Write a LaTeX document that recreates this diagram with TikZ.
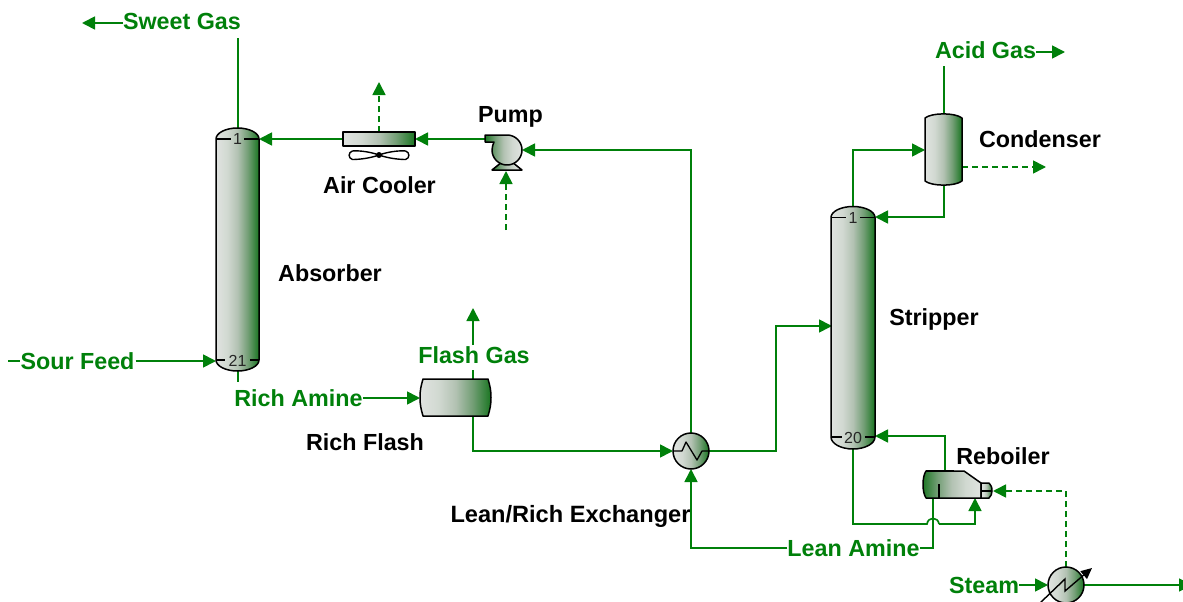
\documentclass[tikz,border=0pt]{standalone}
\usepackage{fontspec}
\setmainfont{Liberation Sans}
\usetikzlibrary{arrows.meta,calc}
\definecolor{stream}{RGB}{0,128,10}
\pgfdeclarehorizontalshading{eqshade}{100bp}{
  rgb(0bp)=(.88,.89,.88);
  rgb(25bp)=(.88,.89,.88);
  rgb(38bp)=(.82,.85,.82);
  rgb(50bp)=(.70,.76,.70);
  rgb(62bp)=(.45,.62,.46);
  rgb(75bp)=(.10,.46,.13);
  rgb(100bp)=(.10,.46,.13)}
\tikzset{
  flow/.style={draw=stream,line width=1.7pt,-{Triangle[length=13pt,width=13pt]}},
  flowdash/.style={flow,dash pattern=on 6pt off 4pt},
  flowend/.style={draw=stream,line width=1.7pt},
  unitline/.style={draw=black,line width=1.5pt,line join=round},
  fillleft/.style={unitline,shading=eqshade},
  fillright/.style={unitline,shading=eqshade,shading angle=180},
  unitbox/.style={inner sep=0pt,outer sep=0pt,draw=none},
  greenlabel/.style={inner sep=0pt,anchor=base,text=stream,font=\fontsize{23.3}{25}\selectfont\bfseries},
  blacklabel/.style={inner sep=0pt,anchor=base,text=black,font=\fontsize{23.3}{25}\selectfont\bfseries},
  traynum/.style={inner sep=0pt,text=black!85,font=\fontsize{16}{18}\selectfont},
  trayline/.style={draw=black,line width=1.2pt},
}
% x1 x2 ytop ytan1 ytan2 ybot
\newcommand{\columnpath}[6]{
  (#1,#4) .. controls (#1,{#4-0.55*(#4-#3)}) and ({(#1+#2)/2-0.55*(#2-#1)/2},#3) .. ({(#1+#2)/2},#3)
  .. controls ({(#1+#2)/2+0.55*(#2-#1)/2},#3) and (#2,{#4-0.55*(#4-#3)}) .. (#2,#4)
  -- (#2,#5) .. controls (#2,{#5+0.55*(#6-#5)}) and ({(#1+#2)/2+0.55*(#2-#1)/2},#6) .. ({(#1+#2)/2},#6)
  .. controls ({(#1+#2)/2-0.55*(#2-#1)/2},#6) and (#1,{#5+0.55*(#6-#5)}) .. (#1,#5) -- cycle}
\begin{document}
\begin{tikzpicture}[x=1pt,y=-1pt]
\clip (0,0) rectangle (1183,602);
% anchors for the units
\node[unitbox,minimum width=44pt,minimum height=243pt] (abs) at (238,249.5) {};
\node[unitbox,minimum width=44pt,minimum height=243pt] (str) at (853,328) {};
\node[unitbox,minimum width=72pt,minimum height=14pt] (cool) at (379,139) {};
\node[unitbox,minimum width=71pt,minimum height=37pt] (flash) at (473,397.5) {};
\node[unitbox,minimum width=37pt,minimum height=73pt] (cond) at (943.5,149.5) {};
% labels
\node[greenlabel] (lsweet) at (182,30) {Sweet Gas};
\node[greenlabel] (lsour) at (77.5,369) {Sour Feed};
\node[greenlabel] (lrich) at (298.5,406) {Rich Amine};
\node[greenlabel] (lflash) at (474,363) {Flash Gas};
\node[greenlabel] (lacid) at (985.5,59) {Acid Gas};
\node[greenlabel] (llean) at (853.5,556) {Lean Amine};
\node[greenlabel] (lsteam) at (984,593) {Steam};
\node[blacklabel] (tpump) at (510.5,122) {Pump};
\node[blacklabel] (tcool) at (379.5,193) {Air Cooler};
\node[blacklabel] (tabs) at (330,281) {Absorber};
\node[blacklabel] (tstr) at (934,325) {Stripper};
\node[blacklabel] (tcond) at (1040,147) {Condenser};
\node[blacklabel] (treb) at (1003,464) {Reboiler};
\node[blacklabel] (trf) at (365,450) {Rich Flash};
\node[blacklabel,font=\fontsize{23.6}{25}\selectfont\bfseries] (tex) at (570.5,522) {Lean/Rich Exchanger};
% free ends and ports
\coordinate (swtip) at (82,23);
\coordinate (abstopend) at (238,38);
\coordinate (sourstub) at (8,361);
\coordinate (abs1) at (259,139);
\coordinate (abs21) at (216,361);
\coordinate (absstub) at (238,382);
\coordinate (flashin) at (420,398);
\coordinate (fgstub) at (473,370);
\coordinate (fgtail) at (473,345);
\coordinate (fgtip) at (473,308);
\coordinate (coolup) at (379,82);
\coordinate (pumpout) at (485,139);
\coordinate (pumpin) at (522,150);
\coordinate (pumpfoot) at (506,171);
\coordinate (pumptail) at (506,230);
\coordinate (feedin) at (832,326);
\coordinate (strtopout) at (853,207);
\coordinate (condin) at (925,150);
\coordinate (condtop) at (944,66);
\coordinate (acidtip) at (1065,52);
\coordinate (condright) at (962,167);
\coordinate (condtip) at (1046,167);
\coordinate (str1) at (875,217);
\coordinate (str20) at (875,436);
\coordinate (strbot) at (853,449);
\coordinate (rebtop) at (945,471);
\coordinate (rebbot) at (933,498);
\coordinate (rebin) at (975,498);
\coordinate (rebsteam) at (993,491);
\coordinate (hopa) at (927,524);
\coordinate (hopb) at (939,524);
\coordinate (leanjoin) at (933,548);
\coordinate (outtip) at (1192,585);
% connectors
\draw[flow] (lsweet.west |- swtip) -- (swtip);
\draw[flowend] (abs.north) -- (abstopend);
\draw[flowend] (sourstub) -- (lsour.west |- sourstub);
\draw[flow] (lsour.east |- abs21) ++(1,0) -- (abs21);
\draw[flowend] (abs.south) -- (absstub);
\draw[flow] (lrich.east |- flashin) -- (flashin);
\draw[flowend] (fgstub) -- (flash.north -| fgstub);
\draw[flow] (fgtail) -- (fgtip);
\draw[flow] (pumpout) -- (cool.east);
\draw[flow] (cool.west) -- (abs1);
\draw[flowdash] (cool.north) -- (coolup);
\draw[flowdash] (pumptail) -- (pumpfoot);
\node[unitbox,circle,minimum size=36pt] (ex) at (691,451) {};
\node[unitbox,circle,minimum size=36pt] (heat) at (1066,585) {};
\draw[flow] (flash.south -| fgstub) |- (ex.west);
\draw[flow] (ex.north) |- (pumpin);
\draw[flow] (ex.east) -- (776,451) |- (feedin);
\draw[flow] (llean.west |- leanjoin) -| (ex.south);
\draw[flow] (strtopout) |- (condin);
\draw[flowend] (cond.north -| condtop) -- (condtop);
\draw[flow] (lacid.east |- acidtip) -- (acidtip);
\draw[flow] (cond.south -| condtop) |- (str1);
\draw[flowdash] (condright) -- (condtip);
\draw[flow] (rebtop) |- (str20);
\draw[flowend] (rebbot) -- (leanjoin) -- (llean.east |- leanjoin);
\draw[flowend] (strbot) |- (hopa) .. controls (928,516.5) and (938,516.5) .. (hopb);
\draw[flow] (hopb) -| (rebin);
\draw[flowdash] (heat.north) |- (rebsteam);
\draw[flow] (lsteam.east |- heat.west) -- (heat.west);
\draw[flow] (heat.east) -- (outtip);
% columns
\draw[fillleft] \columnpath{216}{259}{128}{139}{360}{371};
\draw[trayline] (216,139) -- (231,139) (244,139) -- (259,139);
\node[traynum] (t1a) at (237.5,139) {1};
\draw[trayline] (216,360) -- (225,360) (250,360) -- (259,360);
\node[traynum] (t21) at (237.5,361) {21};
\draw[fillleft] \columnpath{831}{875}{206.5}{217.5}{437}{449};
\draw[trayline] (831,217.5) -- (846,217.5) (860,217.5) -- (875,217.5);
\node[traynum] (t1b) at (853,218) {1};
\draw[trayline] (831,437) -- (842,437) (865,437) -- (875,437);
\node[traynum] (t20) at (853,438) {20};
% condenser
\draw[fillleft] (925,118) .. controls (932,112.5) and (955,112.5) .. (962,118)
  -- (962,181) .. controls (955,186.5) and (932,186.5) .. (925,181) -- cycle;
% flash drum
\draw[fillleft] (423,379) -- (488,379) .. controls (490,386) and (491,390) .. (491,397.5)
  .. controls (491,405) and (490,409) .. (488,416) -- (423,416)
  .. controls (421,409) and (420,405) .. (420,397.5) .. controls (420,390) and (421,386) .. (423,379) -- cycle;
% air cooler
\draw[fillleft] (cool.north west) rectangle (cool.south east);
\draw[unitline,fill=white,line width=1.4pt]
  (379,155) .. controls (368,151) and (356,150.5) .. (352.5,151)
  .. controls (348,152) and (348,158.5) .. (352.5,159.5)
  .. controls (356,159.5) and (368,159) .. (379,155)
  .. controls (390,151) and (402,150.5) .. (405.5,151)
  .. controls (410,152) and (410,158.5) .. (405.5,159.5)
  .. controls (402,159.5) and (390,159) .. (379,155) -- cycle;
\fill[black] (379,155) circle[radius=3pt];
% pump
\draw[fillright] (492,170) -- (522,170) -- (512,162) -- (502,162) -- cycle;
\draw[fillright] (485,135) -- (507,135) .. controls (515.3,135) and (522,141.7) .. (522,150)
  .. controls (522,158.3) and (515.3,165) .. (507,165)
  .. controls (498.7,165) and (492,158.3) .. (492,150)
  .. controls (492,147) and (493,144.5) .. (494,142) -- (485,142) -- cycle;
% exchanger
\node[unitline,fillleft,circle,minimum size=36pt,inner sep=0pt] at (ex) {};
\draw[unitline,line width=1.3pt] (673,451) -- (682,451) -- (686,442) -- (697,460) -- (702,451) -- (709,451);
% heater
\node[unitline,fillleft,circle,minimum size=36pt,inner sep=0pt] at (heat) {};
\draw[black,line width=1.4pt,-{Triangle[length=11pt,width=10pt]}] (1040,603) -- (1065,579) -- (1065,591) -- (1092,568);
% reboiler
\draw[fillright] (926,471) -- (964,471) -- (981,483) -- (981,498) -- (926,498)
  .. controls (922,492) and (922,477) .. (926,471) -- cycle;
\draw[fillleft] (981,483) -- (989,483) .. controls (991,485) and (992,487) .. (992,491)
  .. controls (992,494) and (991,496) .. (989,498) -- (981,498) -- cycle;
\draw[trayline] (981,491) -- (992,491);
\draw[trayline] (939,484) -- (939,498);
\draw[black,line width=2pt] (926,471) -- (954,471);
\end{tikzpicture}
\end{document}
